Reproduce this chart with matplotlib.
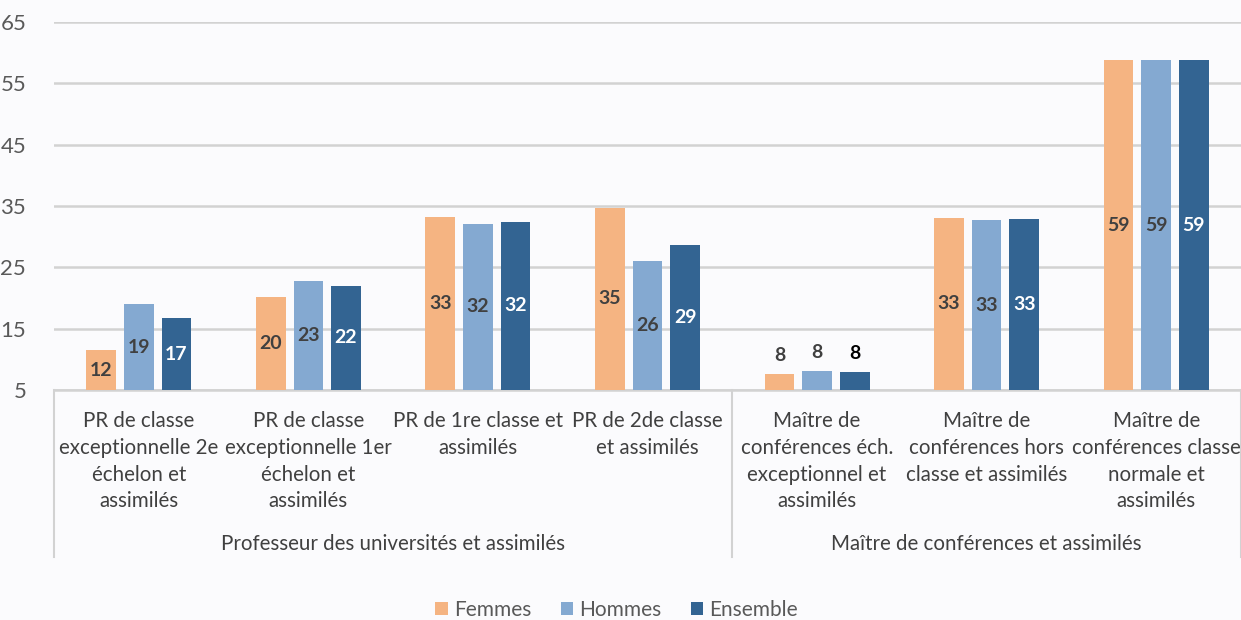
import matplotlib
matplotlib.use("Agg")
import matplotlib.pyplot as plt
import matplotlib.transforms as mtransforms
import numpy as np

categories = [
    "PR de classe\nexceptionnelle 2e\néchelon et\nassimilés",
    "PR de classe\nexceptionnelle 1er\néchelon et\nassimilés",
    "PR de 1re classe et\nassimilés",
    "PR de 2de classe\net assimilés",
    "Maître de\nconférences éch.\nexceptionnel et\nassimilés",
    "Maître de\nconférences hors\nclasse et assimilés",
    "Maître de\nconférences classe\nnormale et\nassimilés",
]
groups = ["Professeur des universités et assimilés", "Maître de conférences et assimilés"]
group_spans = [(0, 3), (4, 6)]
series_names = ["Femmes", "Hommes", "Ensemble"]
femmes = [11.5, 20.2, 33.2, 34.7, 7.6, 33.1, 58.8]
hommes = [19.0, 22.8, 32.1, 26.0, 8.1, 32.7, 58.8]
ensemble = [16.7, 22.0, 32.4, 28.7, 7.9, 32.9, 58.8]
yticks = [5, 15, 25, 35, 45, 55, 65]

colors = ["#F5B482", "#84A9D1", "#336492"]
label_colors = ["#404040", "#404040", "#FFFFFF"]
bg = "#FBFBFD"
FONT = "Lato"

fig = plt.figure(figsize=(12.41, 6.2), dpi=100, facecolor=bg)
ax = fig.add_axes([0.0435, 0.371, 0.9565, 0.5935])
ax.set_facecolor(bg)

base = 5
x = np.arange(len(categories))
width = 0.175
step = 0.222
series = [femmes, hommes, ensemble]
for i, (vals, c) in enumerate(zip(series, colors)):
    xs = x + (i - 1) * step
    heights = [v - base for v in vals]
    ax.bar(xs, heights, width, bottom=base, color=c, zorder=3, label=series_names[i])
    for xi, v in zip(xs, vals):
        txt = f"{round(v):d}"
        if v - base < 5:
            col = "#000000" if i == 2 else "#404040"
            ax.annotate(txt, (xi, v), xytext=(0, 7), textcoords="offset points",
                        ha="center", va="bottom", fontsize=14, fontweight="bold",
                        color=col, family=FONT, zorder=4)
        else:
            ax.text(xi, (base + v) / 2, txt, ha="center", va="center", fontsize=14,
                    fontweight="bold", color=label_colors[i], family=FONT, zorder=4)

ax.set_xlim(-0.5, len(categories) - 0.5)
ax.set_ylim(5, 65)
ax.set_yticks(yticks)
ax.set_yticklabels([str(t) for t in yticks], fontsize=16, color="#595959", family=FONT)
ax.tick_params(axis="y", length=0, pad=20)
ax.set_xticks([])
ax.grid(axis="y", color="#D2D2D2", linewidth=1.8, zorder=0)
for s in ["top", "right", "left"]:
    ax.spines[s].set_visible(False)
ax.spines["bottom"].set_color("#D2D2D2")
ax.spines["bottom"].set_linewidth(1.8)

trans = mtransforms.blended_transform_factory(ax.transData, ax.transAxes)
for xi, lab in zip(x, categories):
    ax.text(xi, -0.058, lab, transform=trans, ha="center", va="top", fontsize=14.8,
            color="#404040", family=FONT, linespacing=1.42)
for xv in [-0.5, 3.5, 6.5]:
    ax.plot([xv, xv], [0, -0.455], transform=trans, color="#D2D2D2", lw=1.5, clip_on=False)
for g, (a, b) in zip(groups, group_spans):
    ax.text((a + b) / 2, -0.418, g, transform=trans, ha="center", va="center", fontsize=14.8,
            color="#404040", family=FONT)

leg = fig.legend(loc="center", bbox_to_anchor=(0.497, 0.016), ncol=3, frameon=False,
                 fontsize=15, handlelength=0.6, handleheight=0.6, handletextpad=0.3,
                 columnspacing=1.4)
for t in leg.get_texts():
    t.set_color("#595959")
    t.set_family(FONT)

fig.savefig("out.png", dpi=100, facecolor=bg)
